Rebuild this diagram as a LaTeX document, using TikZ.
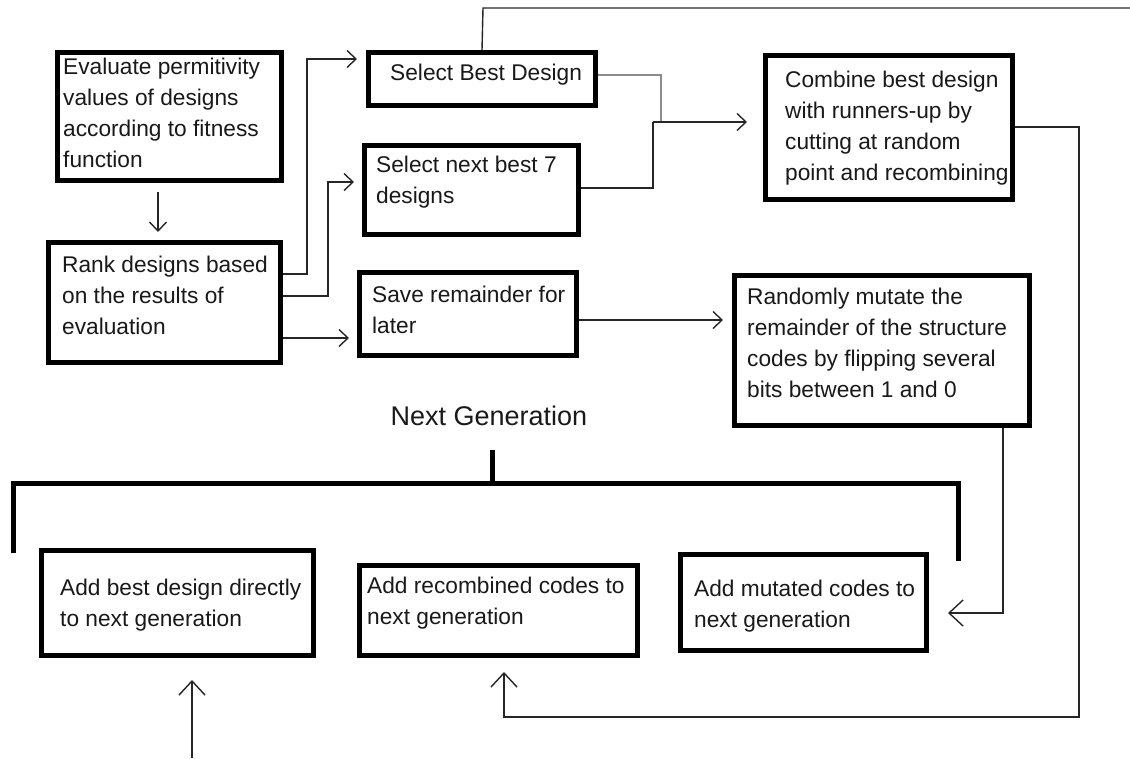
\documentclass[tikz,border=0pt]{standalone}
\usepackage{fontspec}
\setmainfont{Liberation Sans}
\usetikzlibrary{arrows.meta}

% several left-aligned lines, baseline of the node = baseline of the first line
\newcommand\boxlines[1]{\vtop{\baselineskip=31pt\lineskiplimit=-20pt\lineskip=0pt\halign{##\hfil\cr#1\crcr}}}

\tikzset{
  pbox/.style={draw=black, line width=5pt, rectangle, inner sep=0pt, fill=white},
  txt/.style={inner sep=0pt, anchor=base west, text=black!90,
              font=\fontsize{22.7}{31}\selectfont},
  conn/.style={line width=1.4pt, draw=black!85, line join=miter},
  arr/.style={conn, -{Straight Barb[length=9pt,width=17pt]}},
  bigarr/.style={conn, -{Straight Barb[length=14pt,width=26pt]}},
  brk/.style={line width=5pt, draw=black, line cap=butt, line join=miter},
}

\begin{document}
\begin{tikzpicture}[x=1pt, y=-1pt]
\useasboundingbox[fill=white] (0,0) rectangle (1130,758);

% ---- process boxes ----
\node[pbox, minimum width=224pt, minimum height=128pt] (ev) at (169.5,116.5) {};
\node[pbox, minimum width=232pt, minimum height=120pt] (rk) at (164.5,302.5) {};
\node[pbox, minimum width=227pt, minimum height=53pt]  (sb) at (482,79) {};
\node[pbox, minimum width=214pt, minimum height=89pt]  (sn) at (471.5,190) {};
\node[pbox, minimum width=217pt, minimum height=83pt]  (sv) at (468,314) {};
\node[pbox, minimum width=247pt, minimum height=144pt] (cb) at (889,127.5) {};
\node[pbox, minimum width=295pt, minimum height=150pt] (mu) at (882,350.5) {};
\node[pbox, minimum width=272pt, minimum height=105pt] (ab) at (177.5,603) {};
\node[pbox, minimum width=278pt, minimum height=90pt]  (ar) at (498.5,610.5) {};
\node[pbox, minimum width=246pt, minimum height=96pt]  (am) at (803.5,602.5) {};

% ---- box texts ----
\node[txt] (tev) at (63,74) {\boxlines{Evaluate permitivity\cr values of designs\cr according to fitness\cr function}};
\node[txt] (trk) at (62,272) {\boxlines{Rank designs based\cr on the results of\cr evaluation}};
\node[txt] (tsb) at (390,80) {Select Best Design};
\node[txt] (tsn) at (376,172) {\boxlines{Select next best 7\cr designs}};
\node[txt] (tsv) at (372,302) {\boxlines{Save remainder for\cr later}};
\node[txt] (tcb) at (785,87) {\boxlines{Combine best design\cr with runners-up by\cr cutting at random\cr point and recombining}};
\node[txt] (tmu) at (747,304) {\boxlines{Randomly mutate the\cr remainder of the structure\cr codes by flipping several\cr bits between 1 and 0}};
\node[txt] (tab) at (60,595) {\boxlines{Add best design directly\cr to next generation}};
\node[txt] (tar) at (367,593) {\boxlines{Add recombined codes to\cr next generation}};
\node[txt] (tam) at (694,596) {\boxlines{Add mutated codes to\cr next generation}};

% ---- next generation bracket ----
\node[inner sep=0pt, anchor=base, text=black!90, font=\fontsize{27}{32}\selectfont] (ng) at (489,425) {Next Generation};
\draw[brk] (492,450) -- (492,483);
\draw[brk] (13,553) -- (13,483) -- (958,483) -- (958,561);

% ---- connectors ----
\draw[arr] (158,192) -- (158,232);
\draw[arr] (rk.east |- 0,274) -- (307,274) -- (307,59) -- (357,59);
\draw[arr] (rk.east |- 0,296) -- (328,296) -- (328,182) -- (354,182);
\draw[arr] (rk.east |- 0,338) -- (349,338);

\coordinate (topend) at (1130,8);
\draw[conn] (sb.north |- 0,50) -- (483,8) -- (topend);

\draw[conn, draw=black!45] (sb.east |- 0,75) -- (661,75) -- (661,122);
\draw[conn] (sn.east |- 0,188) -- (653,188) -- (653,122);
\draw[arr] (653,122) -- (747,122);

\draw[arr] (sv.east |- 0,320) -- (723,320);

\draw[bigarr] (cb.east |- 0,127) -- (1079,127) -- (1079,717) -- (504,717) -- (504,672);
\draw[bigarr] (1003,428) -- (1003,613) -- (948,613);

\coordinate (botend) at (192,758);
\draw[bigarr] (botend) -- (192,680);
\end{tikzpicture}
\end{document}
